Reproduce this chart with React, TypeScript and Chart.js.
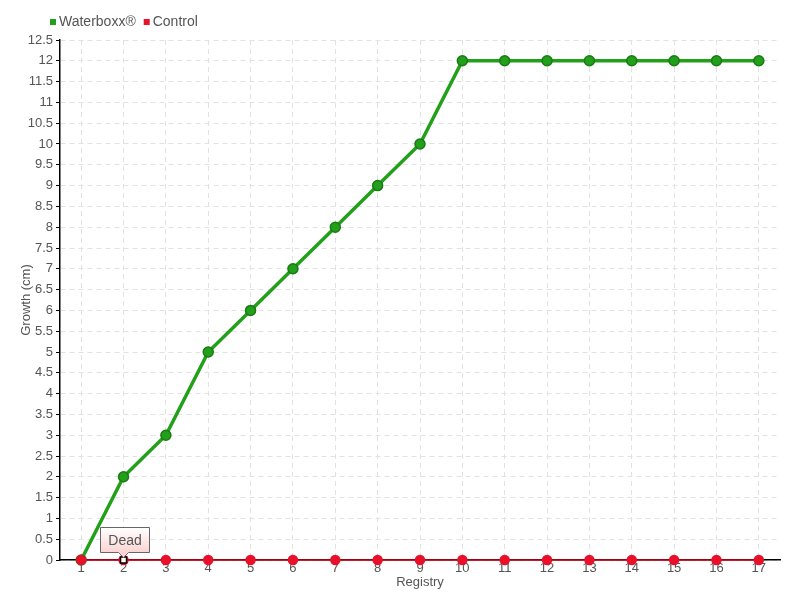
import React, { useEffect, useRef } from "react";
import { Chart, registerables } from "chart.js";
Chart.register(...registerables);

const registry = ["1","2","3","4","5","6","7","8","9","10","11","12","13","14","15","16","17"];
const waterboxx = [0, 2, 3, 5, 6, 7, 8, 9, 10, 12, 12, 12, 12, 12, 12, 12, 12];
const control = [0, 0, 0, 0, 0, 0, 0, 0, 0, 0, 0, 0, 0, 0, 0, 0, 0];
const seriesNames = ["Waterboxx®", "Control"];
const seriesColors = ["#22a01a", "#e8102a"];
const noteIndex = 1;
const noteText = "Dead";

const FONT = "'Liberation Sans', Arial, sans-serif";

export default function App() {
  const ref = useRef<HTMLCanvasElement>(null);
  useEffect(() => {
    document.body.style.margin = "0";
    const legendPlugin = {
      id: "customLegend",
      afterDraw(chart: any) {
        const ctx = chart.ctx;
        ctx.save();
        ctx.font = `14px ${FONT}`;
        ctx.textBaseline = "middle";
        let x = 50;
        const y = 22;
        chart.data.datasets.forEach((ds: any, i: number) => {
          ctx.fillStyle = seriesColors[i];
          ctx.fillRect(x, y - 3, 6, 6);
          x += 9;
          ctx.fillStyle = "#555";
          ctx.fillText(ds.label, x, y);
          x += ctx.measureText(ds.label).width + 8;
        });
        ctx.restore();
      },
    };
    const notePlugin = {
      id: "note",
      afterDraw(chart: any) {
        const meta = chart.getDatasetMeta(1);
        const pt = meta.data[noteIndex];
        if (!pt) return;
        const ctx = chart.ctx;
        const px = pt.x, py = pt.y;
        ctx.save();
        ctx.fillStyle = "#fff";
        ctx.strokeStyle = "#000";
        ctx.lineWidth = 1.5;
        ctx.fillRect(px - 3, py - 3, 6, 6);
        ctx.strokeRect(px - 3, py - 3, 6, 6);
        const w = 49, h = 25;
        const bx = Math.round(px - 24) + 0.5, by = Math.round(py - 33) + 0.5;
        const grad = ctx.createLinearGradient(0, by, 0, by + h);
        grad.addColorStop(0, "#ffffff");
        grad.addColorStop(1, "#fbd3d3");
        ctx.beginPath();
        ctx.moveTo(bx, by);
        ctx.lineTo(bx + w, by);
        ctx.lineTo(bx + w, by + h);
        ctx.lineTo(px + 5, by + h);
        ctx.lineTo(px, by + h + 5);
        ctx.lineTo(px - 5, by + h);
        ctx.lineTo(bx, by + h);
        ctx.closePath();
        ctx.fillStyle = grad;
        ctx.fill();
        ctx.strokeStyle = "#666";
        ctx.lineWidth = 1;
        ctx.stroke();
        ctx.fillStyle = "#555";
        ctx.font = `14px ${FONT}`;
        ctx.textAlign = "center";
        ctx.textBaseline = "middle";
        ctx.fillText(noteText, bx + w / 2, by + h / 2 + 1);
        ctx.restore();
      },
    };
    const font = { family: FONT, size: 13 };
    const chart = new Chart(ref.current!, {
      type: "line",
      data: {
        labels: registry,
        datasets: [
          {
            label: seriesNames[0],
            data: waterboxx,
            borderColor: seriesColors[0],
            backgroundColor: seriesColors[0],
            pointBorderColor: "#1a7a14",
            pointBorderWidth: 1.5,
            borderWidth: 3.5,
            pointRadius: 5,
            tension: 0,
            order: 2,
            clip: 8,
          },
          {
            label: seriesNames[1],
            data: control,
            borderColor: "#d8001a",
            backgroundColor: seriesColors[1],
            pointBorderColor: seriesColors[1],
            borderWidth: 1.5,
            pointRadius: 4.5,
            tension: 0,
            order: 1,
            clip: 8,
          },
        ],
      },
      options: {
        animation: false,
        responsive: false,
        events: [],
        layout: { padding: { top: 40, right: 20, left: 0, bottom: 10 } },
        plugins: { legend: { display: false }, tooltip: { enabled: false } },
        scales: {
          x: {
            offset: true,
            afterFit: (s: any) => { s.height = 30; },
            grid: { color: "#e2e2e2", drawTicks: false, offset: false } as any,
            border: { color: "#000", width: 1.5, dash: [5, 4] },
            ticks: { color: "#555", font, padding: 1 },
            title: { display: true, text: "Registry", color: "#555", font, padding: 0 },
          },
          y: {
            min: 0,
            max: 12.5,
            afterFit: (s: any) => { s.width = 60; },
            grid: { color: "#e2e2e2", tickColor: "#000", tickLength: 4 },
            border: { color: "#000", width: 1.5, dash: [5, 4] },
            ticks: {
              stepSize: 0.5, color: "#555", font, padding: 3, autoSkip: false,
              callback: (v: any) => String(Number(v)),
            },
            title: { display: true, text: "Growth (cm)", color: "#555", font, padding: { top: 19, bottom: 0 } },
          },
        },
      },
      plugins: [legendPlugin, notePlugin],
    });
    return () => chart.destroy();
  }, []);
  return (
    <div style={{ width: 800, height: 600 }}>
      <canvas ref={ref} width={800} height={600} />
    </div>
  );
}
